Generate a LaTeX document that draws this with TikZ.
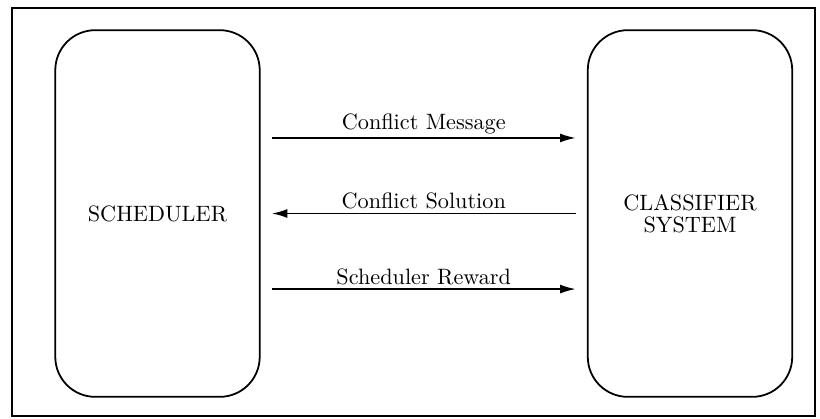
\documentclass[tikz,border=0pt]{standalone}
\usetikzlibrary{arrows.meta}

\begin{document}
\begin{tikzpicture}[x=0.45pt, y=-0.45pt,
    agent/.style={draw, thick, rounded corners=18pt, minimum width=92pt, minimum height=165pt, align=center, inner sep=0pt},
    msg/.style={thick, -{Latex[length=7pt, width=4pt]}, shorten <=5pt, shorten >=5pt},
    msglabel/.style={midway, above=0pt, inner sep=1.5pt}]

    % Outer frame
    \useasboundingbox (0,0) rectangle (820,418);
    \draw[line width=1.1pt] (12,8) rectangle (815,416);

    % The two boxes
    \node[agent] (sched) at (157.5,213.5) {SCHEDULER};
    \node[agent] (clsys) at (690,213.5) {CLASSIFIER\\[-2pt]SYSTEM};

    % Messages between the boxes
    \draw[msg] ([yshift=34pt]sched.east) -- ([yshift=34pt]clsys.west) node[msglabel] {Conflict Message};
    \draw[msg] (clsys.west) -- (sched.east) node[msglabel] {Conflict Solution};
    \draw[msg] ([yshift=-34pt]sched.east) -- ([yshift=-34pt]clsys.west) node[msglabel] {Scheduler Reward};

\end{tikzpicture}
\end{document}
